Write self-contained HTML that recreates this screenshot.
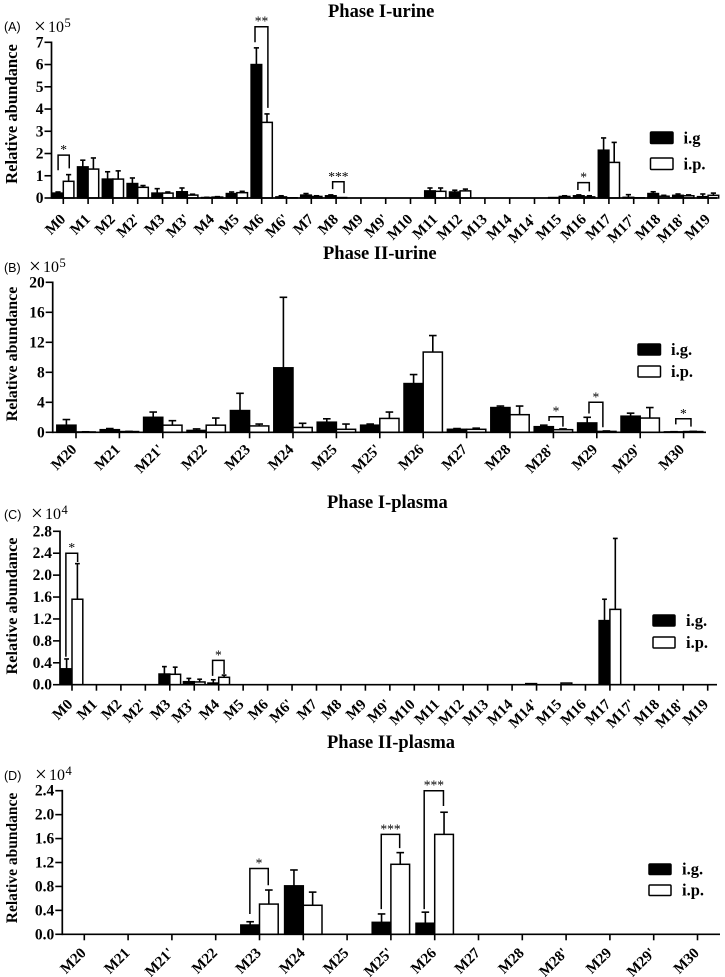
<!DOCTYPE html>
<html lang="en">
<head>
<meta charset="utf-8">
<title>Relative abundance of metabolites</title>
<style>
html,body{margin:0;padding:0;background:#fff;}
#figure{display:block;width:725px;height:977px;filter:blur(.35px);}
text{font-family:"Liberation Serif",serif;fill:#000;}
.b{font-weight:bold;}
.s{font-family:"Liberation Sans",sans-serif;}
</style>
</head>
<body>
<svg id="figure" xmlns="http://www.w3.org/2000/svg" width="725" height="977" viewBox="0 0 725 977"></svg>
<script>
// ---------- Panel A data ----------
const panelACategories = ["M0","M1","M2","M2'","M3","M3'","M4","M5","M6","M6'","M7","M8","M9","M9'","M10","M11","M12","M13","M14","M14'","M15","M16","M17","M17'","M18","M18'","M19"];
const panelAIg = [.22,1.4,.85,.65,.22,.28,.02,.2,6,.05,.13,.1,0,0,0,.32,.27,0,0,0,.02,.1,2.15,.03,.2,.12,.06];
const panelAIp = [.75,1.3,.85,.48,.22,.13,.04,.24,3.4,.01,.07,.02,0,0,0,.3,.32,0,0,0,.07,.05,1.6,.01,.08,.1,.12];
const panelAIgSd = [.05,.3,.33,.25,.2,.17,.01,.07,.75,.05,.07,.04,0,0,0,.13,.08,0,0,0,0,.04,.55,.12,.08,.06,.12];
const panelAIpSd = [.3,.5,.37,.08,.05,.04,.02,.06,.38,0,.03,0,0,0,0,.15,.08,0,0,0,.03,.05,.9,0,.04,.04,.1];
const panelATicks = ["0","1","2","3","4","5","6","7"];
const panelABracketCats = ["M0","M6","M8","M16"];
const panelABracketTop = [1.93,7.7,.73,.69];
const panelABracketLeftEnd = [1.25,7.0,.4,.36];
const panelABracketRightEnd = [1.33,4.05,.22,.3];
const panelABracketStars = ["*","**","***","*"];

// ---------- Panel B data ----------
const panelBCategories = ["M20","M21","M21'","M22","M23","M24","M25","M25'","M26","M27","M28","M28'","M29","M29'","M30"];
const panelBIg = [.95,.35,2.0,.25,2.9,8.6,1.35,.95,6.5,.4,3.3,.75,1.25,2.15,.06];
const panelBIp = [.05,.1,.95,.95,.85,.65,.4,1.85,10.7,.4,2.35,.35,.12,1.9,.1];
const panelBIgSd = [.75,.15,.7,.2,2.3,9.4,.45,.15,1.2,.1,.2,.2,.75,.4,.02];
const panelBIpSd = [.02,.02,.6,.95,.25,.55,.7,.85,2.2,.15,1.15,.1,.06,1.4,.02];
const panelBTicks = ["0","4","8","12","16","20"];
const panelBBracketCats = ["M28'","M29","M30"];
const panelBBracketTop = [2.08,4.0,1.8];
const panelBBracketLeftEnd = [1.5,2.5,1.05];
const panelBBracketRightEnd = [.75,.67,.75];
const panelBBracketStars = ["*","*","*"];

// ---------- Panel C data ----------
const panelCCategories = ["M0","M1","M2","M2'","M3","M3'","M4","M5","M6","M6'","M7","M8","M9","M9'","M10","M11","M12","M13","M14","M14'","M15","M16","M17","M17'","M18","M18'","M19"];
const panelCIg = [.29,0,0,0,.195,.055,.03,0,0,0,0,0,0,0,0,0,0,0,0,.02,0,0,1.17,0,0,0,0];
const panelCIp = [1.56,0,0,0,.19,.05,.135,0,0,0,0,0,0,0,0,0,0,0,0,0,.03,0,1.375,0,0,0,0];
const panelCIgSd = [.18,0,0,0,.135,.06,.06,0,0,0,0,0,0,0,0,0,0,0,0,0,0,0,.39,0,0,0,0];
const panelCIpSd = [.65,0,0,0,.13,.05,.04,0,0,0,0,0,0,0,0,0,0,0,0,0,0,0,1.295,0,0,0,0];
const panelCTicks = ["0.0","0.4","0.8","1.2","1.6","2.0","2.4","2.8"];
const panelCBracketCats = ["M0","M4"];
const panelCBracketTop = [2.4,.445];
const panelCBracketLeftEnd = [.51,.16];
const panelCBracketRightEnd = [2.24,.195];
const panelCBracketStars = ["*","*"];

// ---------- Panel D data ----------
const panelDCategories = ["M20","M21","M21'","M22","M23","M24","M25","M25'","M26","M27","M28","M28'","M29","M29'","M30"];
const panelDIg = [0,0,0,0,.155,.81,0,.2,.185,0,0,0,0,0,0];
const panelDIp = [0,0,0,0,.505,.485,0,1.17,1.67,0,0,0,0,0,0];
const panelDIgSd = [0,0,0,0,.055,.265,0,.14,.185,0,0,0,0,0,0];
const panelDIpSd = [0,0,0,0,.235,.22,0,.195,.37,0,0,0,0,0,0];
const panelDTicks = ["0.0","0.4","0.8","1.2","1.6","2.0","2.4"];
const panelDBracketCats = ["M23","M25'","M26"];
const panelDBracketTop = [1.1,1.67,2.4];
const panelDBracketLeftEnd = [.34,.42,.42];
const panelDBracketRightEnd = [.82,1.44,2.145];
const panelDBracketStars = ["*","***","***"];

const SVG_NS = "http://www.w3.org/2000/svg";
const root = document.getElementById("figure");

function make(parent, tag, attrs, name, content) {
  const el = document.createElementNS(SVG_NS, tag);
  for (const k in attrs) el.setAttribute(k, attrs[k]);
  
  
  if (content !== undefined) el.textContent = content;
  parent.appendChild(el);
  return el;
}

function line(parent, x1, y1, x2, y2, w, name) {
  return make(parent, "line", {x1, y1, x2, y2, stroke:"#000", "stroke-width":w}, name);
}

function drawPanel(p) {
  const g = make(root, "g", {}, "panel-" + p.id);
  const yMax = parseFloat(p.ticks[p.ticks.length - 1]);
  const yScale = v => p.y0 - (v / yMax) * (p.y0 - p.yTop);
  const xScale = i => p.x0 + i * p.step;

  make(g, "text", {x:p.titleX, y:p.titleY, class:"b", "font-size":p.titleSize}, "panel-title", p.title);
  make(g, "text", {x:p.letterX, y:p.letterY, class:"s", "font-size":12.5}, "panel-letter", "(" + p.id + ")");
  make(g, "text", {x:p.multX, y:p.multY + 1, "font-size":21}, "multiplier-sign", "×");
  make(g, "text", {x:p.multX + 14, y:p.multY, "font-size":16}, "multiplier-base", "10");
  make(g, "text", {x:p.multX + 30.5, y:p.multY - 5, "font-size":12.5}, "multiplier-exponent", p.exponent);

  make(g, "text", {
    x:0, y:0, class:"b", "font-size":p.labelSize, "text-anchor":"middle",
    transform:"translate(" + p.labelX + "," + p.labelY + ") rotate(-90)"
  }, "y-axis-title", "Relative abundance");

  // bars + error bars
  p.cats.forEach((c, i) => {
    const cx = xScale(i);
    [[p.ig, p.igSd, -1, "ig"], [p.ip, p.ipSd, 0, "ip"]].forEach(([vals, sds, side, key]) => {
      const v = vals[i];
      if (!v) return;
      const bx = cx + side * p.barW;
      const mid = bx + p.barW / 2;
      const top = yScale(v);
      const sd = sds[i];
      if (sd) {
        const et = yScale(v + sd);
        line(g, mid, top, mid, et, 1.6, "error-bar-" + key + "-" + c);
        line(g, mid - p.cap, et, mid + p.cap, et, 1.6, "error-cap-" + key + "-" + c);
      }
      make(g, "rect", {
        x:bx, y:top, width:p.barW, height:p.y0 - top,
        fill: key === "ig" ? "#000" : "#fff", stroke:"#000", "stroke-width":1.5
      }, "bar-" + key + "-" + c);
    });
  });

  // axes
  line(g, p.axisX, p.yTop - .8, p.axisX, p.y0 + .8, 1.7, "y-axis-line");
  line(g, p.axisX, p.y0, p.axisEnd, p.y0, 1.7, "x-axis-line");

  p.ticks.forEach(t => {
    const y = yScale(parseFloat(t));
    line(g, p.axisX - 7, y, p.axisX, y, 1.6, "y-tick");
    make(g, "text", {x:p.axisX - 8, y:y + 5, class:"b", "font-size":15.5, "text-anchor":"end"}, "y-tick-label", t);
  });

  p.cats.forEach((c, i) => {
    const x = xScale(i);
    line(g, x, p.y0, x, p.y0 + 6, 1.6, "x-tick");
    make(g, "text", {
      x:0, y:0, class:"b", "font-size":15, "text-anchor":"end",
      transform:"translate(" + (x + p.labelDx) + "," + (p.y0 + p.labelDy) + ") rotate(-45)"
    }, "x-tick-label", c);
  });

  // significance brackets
  p.bracketCats.forEach((c, i) => {
    const cx = xScale(p.cats.indexOf(c));
    const xl = cx + p.bracketSpanL[i] * p.step;
    const xr = cx + p.bracketSpanR[i] * p.step;
    const yt = yScale(p.bracketTop[i]);
    make(g, "polyline", {
      points: xl + "," + yScale(p.bracketLeft[i]) + " " + xl + "," + yt + " " + xr + "," + yt + " " + xr + "," + yScale(p.bracketRight[i]),
      fill:"none", stroke:"#000", "stroke-width":1.5
    }, "significance-bracket-" + c);
    make(g, "text", {x:(xl + xr) / 2, y:yt - 1, "font-size":13.5, "text-anchor":"middle"}, "significance-stars-" + c, p.bracketStars[i]);
  });

  // legend
  const rectW = p.legW;
  make(g, "rect", {x:p.legX, y:p.legY1, width:rectW, height:p.legH, fill:"#000", stroke:"#000", "stroke-width":1.5, rx:1}, "legend-swatch-ig");
  make(g, "text", {x:p.legTextX, y:p.legY1 + p.legH, class:"b", "font-size":16.5}, "legend-label-ig", p.igLabel);
  make(g, "rect", {x:p.legX, y:p.legY2, width:rectW, height:p.legH, fill:"#fff", stroke:"#000", "stroke-width":1.5, rx:1}, "legend-swatch-ip");
  make(g, "text", {x:p.legTextX, y:p.legY2 + p.legH, class:"b", "font-size":16.5}, "legend-label-ip", "i.p.");
}

drawPanel({
  id:"A", title:"Phase I-urine", titleX:328, titleY:17, titleSize:18.5,
  letterX:4, letterY:31, multX:34, multY:32, exponent:"5",
  labelX:17, labelY:114, labelSize:16.6, labelDx:3, labelDy:22,
  cats:panelACategories, ig:panelAIg, ip:panelAIp, igSd:panelAIgSd, ipSd:panelAIpSd, ticks:panelATicks,
  axisX:51.5, axisEnd:717, y0:198, yTop:42.3, x0:63.3, step:24.8, barW:10.6, cap:2.6,
  bracketCats:panelABracketCats, bracketTop:panelABracketTop, bracketLeft:panelABracketLeftEnd, bracketRight:panelABracketRightEnd, bracketStars:panelABracketStars,
  bracketSpanL:[-.21,-.27,-.14,-.25], bracketSpanR:[.24,.25,.32,.21],
  legX:650.5, legW:22.5, legH:11.5, legY1:132, legY2:158, legTextX:683.5, igLabel:"i.g"
});

drawPanel({
  id:"B", title:"Phase II-urine", titleX:323, titleY:259, titleSize:18.5,
  letterX:4, letterY:272, multX:29, multY:272, exponent:"5",
  labelX:17, labelY:354, labelSize:16, labelDx:1.5, labelDy:18,
  cats:panelBCategories, ig:panelBIg, ip:panelBIp, igSd:panelBIgSd, ipSd:panelBIpSd, ticks:panelBTicks,
  axisX:52.7, axisEnd:706, y0:432.3, yTop:282.3, x0:76, step:43.4, barW:19.2, cap:3.8,
  bracketCats:panelBBracketCats, bracketTop:panelBBracketTop, bracketLeft:panelBBracketLeftEnd, bracketRight:panelBBracketRightEnd, bracketStars:panelBBracketStars,
  bracketSpanL:[-.10,-.18,-.18], bracketSpanR:[.22,.14,.17],
  legX:638, legW:22.5, legH:11, legY1:344, legY2:366, legTextX:671, igLabel:"i.g."
});

drawPanel({
  id:"C", title:"Phase I-plasma", titleX:327, titleY:508, titleSize:18.5,
  letterX:4, letterY:519, multX:31, multY:519, exponent:"4",
  labelX:17, labelY:606, labelSize:16.3, labelDx:1.5, labelDy:20.5,
  cats:panelCCategories, ig:panelCIg, ip:panelCIp, igSd:panelCIgSd, ipSd:panelCIpSd, ticks:panelCTicks,
  axisX:60, axisEnd:717, y0:684.7, yTop:531.3, x0:72, step:24.45, barW:10.8, cap:2.4,
  bracketCats:panelCBracketCats, bracketTop:panelCBracketTop, bracketLeft:panelCBracketLeftEnd, bracketRight:panelCBracketRightEnd, bracketStars:panelCBracketStars,
  bracketSpanL:[-.25,-.25], bracketSpanR:[.23,.22],
  legX:653, legW:22, legH:11, legY1:615, legY2:637, legTextX:686, igLabel:"i.g."
});

drawPanel({
  id:"D", title:"Phase II-plasma", titleX:327, titleY:748, titleSize:18.5,
  letterX:4, letterY:780, multX:35, multY:780, exponent:"4",
  labelX:17, labelY:858, labelSize:15.5, labelDx:2.5, labelDy:19.5,
  cats:panelDCategories, ig:panelDIg, ip:panelDIp, igSd:panelDIgSd, ipSd:panelDIpSd, ticks:panelDTicks,
  axisX:62.3, axisEnd:720, y0:934.3, yTop:790.7, x0:84.3, step:43.8, barW:18.7, cap:3.8,
  bracketCats:panelDBracketCats, bracketTop:panelDBracketTop, bracketLeft:panelDBracketLeftEnd, bracketRight:panelDBracketRightEnd, bracketStars:panelDBracketStars,
  bracketSpanL:[-.22,-.22,-.24], bracketSpanR:[.2,.2,.2],
  legX:649, legW:22, legH:10.5, legY1:864, legY2:885, legTextX:682, igLabel:"i.g."
});
</script>
</body>
</html>
